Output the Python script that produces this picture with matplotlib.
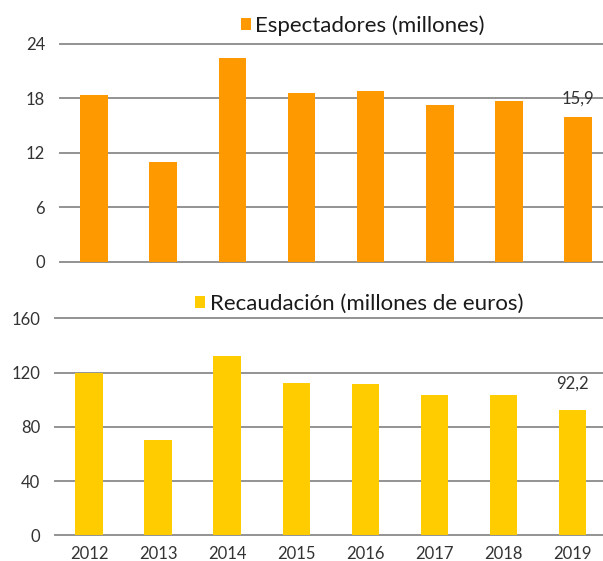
import matplotlib
matplotlib.use("Agg")
import matplotlib.pyplot as plt
from matplotlib.patches import Patch

years = ["2012", "2013", "2014", "2015", "2016", "2017", "2018", "2019"]
espectadores = [18.3, 11.0, 22.4, 18.6, 18.8, 17.3, 17.7, 15.9]
recaudacion = [120.0, 70.0, 132.2, 112.1, 111.3, 103.2, 103.2, 92.2]
top_ticks = [0, 6, 12, 18, 24]
bot_ticks = [0, 40, 80, 120, 160]

plt.rcParams['font.family'] = ['Lato', 'DejaVu Sans']

W, H = 603, 561
fig = plt.figure(figsize=(W / 100, H / 100), dpi=100)

def px_axes(left, right, top, bottom):
    return fig.add_axes([left / W, (H - bottom) / H, (right - left) / W, (bottom - top) / H])

ax1 = px_axes(59.6, 612.5, 43.7, 261.7)
ax2 = px_axes(54.6, 607.2, 318.3, 535.3)

grid_color = "#939393"
text_color = "#333333"

def style(ax, ticks):
    ax.set_ylim(ticks[0], ticks[-1])
    ax.set_xlim(-0.5, 7.5)
    ax.set_yticks(ticks)
    for s in ax.spines.values():
        s.set_visible(False)
    ax.tick_params(axis='y', length=0, pad=10.5, labelsize=12, labelcolor=text_color)
    ax.tick_params(axis='x', length=0, pad=7.5, labelsize=12, labelcolor=text_color)
    for t in ticks:
        ax.axhline(t, color=grid_color, lw=1.4, zorder=0, clip_on=False)

x = list(range(len(years)))

ax1.bar(x, espectadores, width=0.4, color="#FF9900", zorder=2)
style(ax1, top_ticks)
ax1.set_xticks([])
ax1.annotate("15,9", (x[-1], espectadores[-1]), xytext=(0, 13.4), textcoords="offset points",
             ha="center", va="center", fontsize=12, color=text_color)

ax2.bar(x, recaudacion, width=0.4, color="#FFCC00", zorder=2)
style(ax2, bot_ticks)
ax2.set_xticks(x)
ax2.set_xticklabels(years)
ax2.annotate("92,2", (x[-1], recaudacion[-1]), xytext=(0, 19.4), textcoords="offset points",
             ha="center", va="center", fontsize=12, color=text_color)

def legend(ax, label, color, cx, cy):
    leg = ax.legend(handles=[Patch(facecolor=color, edgecolor='none', label=label)],
                    loc="center", bbox_to_anchor=(cx / W, (H - cy) / H),
                    bbox_transform=fig.transFigure, frameon=False,
                    handlelength=0.45, handleheight=0.45, handletextpad=0.2,
                    fontsize=16, borderpad=0, borderaxespad=0)
    for t in leg.get_texts():
        t.set_color("#1a1a1a")

legend(ax1, "Espectadores (millones)", "#FF9900", 362.5, 26)
legend(ax2, "Recaudación (millones de euros)", "#FFCC00", 359.4, 304)

fig.savefig("out.png", dpi=100)
